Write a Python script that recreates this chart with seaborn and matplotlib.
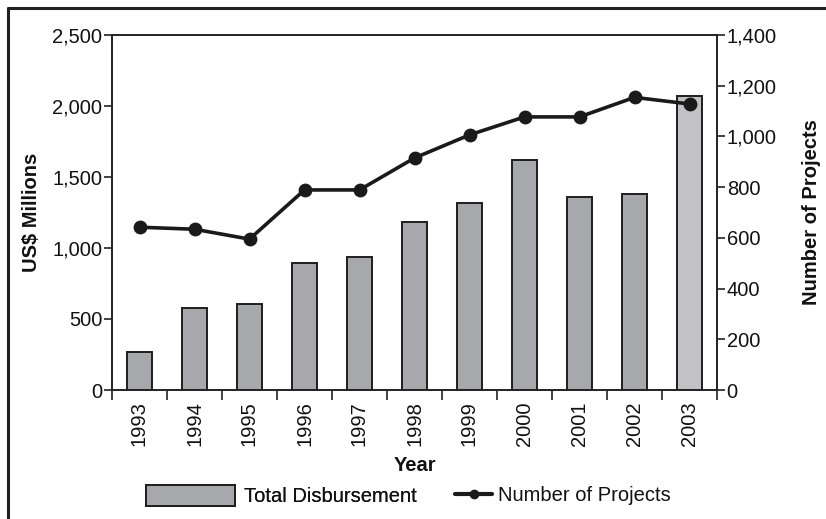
import matplotlib
matplotlib.use("Agg")
import matplotlib.pyplot as plt
import seaborn as sns
import numpy as np
from matplotlib.patches import Patch
from matplotlib.lines import Line2D
from matplotlib.ticker import FuncFormatter, FixedLocator

years = ["1993", "1994", "1995", "1996", "1997", "1998",
         "1999", "2000", "2001", "2002", "2003"]
disbursement = [265, 580, 606, 896, 939, 1183, 1317, 1620, 1359, 1380, 2070]
projects = [642, 634, 595, 789, 789, 915, 1006, 1077, 1077, 1154, 1128]
bar_colors = ["#a7a8ab"] * 10 + ["#c1c2c5"]

FS = 14.5
INK = "#111111"

sns.set_theme(style="white")
plt.rcParams["font.family"] = ["Liberation Sans", "DejaVu Sans"]
plt.rcParams["text.color"] = INK
plt.rcParams["axes.labelcolor"] = INK
plt.rcParams["xtick.color"] = INK
plt.rcParams["ytick.color"] = INK

fig = plt.figure(figsize=(8.26, 5.19), dpi=100)
ax = fig.add_axes([112 / 826, 1 - 390 / 519, 605 / 826, 355 / 519])

sns.barplot(x=years, y=disbursement, hue=years, palette=bar_colors, legend=False,
            width=0.44, edgecolor="#1e1e1e", linewidth=1.4, saturation=1, ax=ax)
ax.set_ylim(0, 2500)
ax.set_xlim(-0.5, len(years) - 0.5)
ax.set_yticks(range(0, 2501, 500))
ax.yaxis.set_major_formatter(FuncFormatter(lambda v, p: f"{int(v):,}"))
ax.tick_params(axis="y", direction="out", length=6, width=1.2, color="#222222",
               labelsize=FS, left=True, pad=1)
ax.tick_params(axis="x", which="major", length=0, labelsize=FS, rotation=90, pad=8)
ax.xaxis.set_minor_locator(FixedLocator(np.arange(-0.5, len(years), 1.0)))
ax.tick_params(axis="x", which="minor", bottom=True, direction="out", length=7,
               width=1.2, color="#222222")
ax.set_xlabel("Year", fontsize=FS, fontweight="bold", labelpad=7)
ax.set_ylabel("US$ Millions", fontsize=FS, fontweight="bold", labelpad=8)
for s in ax.spines.values():
    s.set_color("#222222")
    s.set_linewidth(1.2)

ax2 = ax.twinx()
sns.pointplot(x=years, y=projects, color="#1a1a1a", markers="o", markersize=8,
              linewidth=2.6, ax=ax2)
ax2.set_ylim(0, 1400)
ax2.set_yticks(range(0, 1401, 200))
ax2.yaxis.set_major_formatter(FuncFormatter(lambda v, p: f"{int(v):,}"))
ax2.tick_params(axis="y", direction="out", length=6, width=1.2, color="#222222",
                labelsize=FS, right=True, pad=1)
ax2.set_ylabel("Number of Projects", fontsize=FS, fontweight="bold", labelpad=18)
for s in ax2.spines.values():
    s.set_color("#222222")
    s.set_linewidth(1.2)

# legend, two parts so each handle keeps its own length
leg1 = fig.legend([Patch(facecolor="#a7a8ab", edgecolor="#1e1e1e", linewidth=1.4)],
                  ["Total Disbursement"], loc="center left",
                  bbox_to_anchor=(146 / 826, 1 - 495.5 / 519), frameon=False,
                  fontsize=FS, handlelength=4.4, handleheight=1.25,
                  handletextpad=0.45, borderpad=0, borderaxespad=0)
fig.legend([Line2D([], [], color="#1a1a1a", linewidth=3, marker="o", markersize=6)],
           ["Number of Projects"], loc="center left",
           bbox_to_anchor=(455 / 826, 1 - 495.5 / 519), frameon=False,
           fontsize=FS, handlelength=1.85, handletextpad=0.3, borderpad=0,
           borderaxespad=0)
fig.add_artist(leg1)

# outer frame of the original figure box
fig.add_artist(Line2D([8 / 826, 8 / 826], [0, 1 - 8 / 519], transform=fig.transFigure,
                      color="#222222", linewidth=2.2))
fig.add_artist(Line2D([8 / 826, 1], [1 - 8 / 519, 1 - 8 / 519], transform=fig.transFigure,
                      color="#222222", linewidth=2.2))

fig.savefig("out.png", dpi=100)
